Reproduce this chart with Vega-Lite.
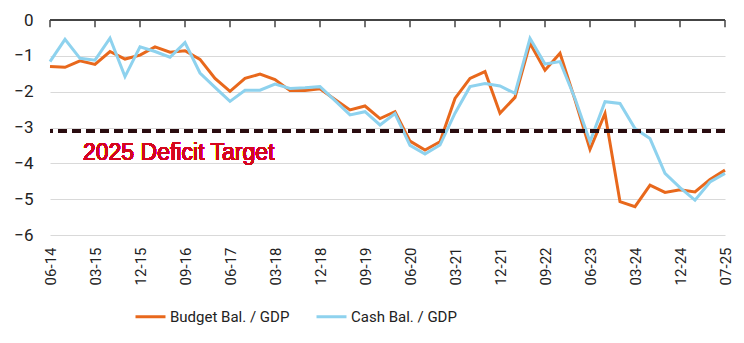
{
  "$schema": "https://vega.github.io/schema/vega-lite/v6.json",
  "width": 675,
  "height": 215,
  "autosize": "none",
  "padding": {"left": 50, "top": 20, "right": 19, "bottom": 108},
  "background": "white",
  "config": {
    "view": {"stroke": null},
    "font": "Roboto",
    "axis": {"labelColor": "#222", "labelFont": "Roboto"},
    "legend": {"labelFont": "Roboto"}
  },
  "data": {
    "values": [
      {"q": "06-14", "s": "Budget Bal. / GDP", "v": -1.30}, {"q": "06-14", "s": "Cash Bal. / GDP", "v": -1.16},
      {"q": "09-14", "s": "Budget Bal. / GDP", "v": -1.32}, {"q": "09-14", "s": "Cash Bal. / GDP", "v": -0.54},
      {"q": "12-14", "s": "Budget Bal. / GDP", "v": -1.14}, {"q": "12-14", "s": "Cash Bal. / GDP", "v": -1.07},
      {"q": "03-15", "s": "Budget Bal. / GDP", "v": -1.24}, {"q": "03-15", "s": "Cash Bal. / GDP", "v": -1.12},
      {"q": "06-15", "s": "Budget Bal. / GDP", "v": -0.88}, {"q": "06-15", "s": "Cash Bal. / GDP", "v": -0.51},
      {"q": "09-15", "s": "Budget Bal. / GDP", "v": -1.09}, {"q": "09-15", "s": "Cash Bal. / GDP", "v": -1.58},
      {"q": "12-15", "s": "Budget Bal. / GDP", "v": -0.98}, {"q": "12-15", "s": "Cash Bal. / GDP", "v": -0.75},
      {"q": "03-16", "s": "Budget Bal. / GDP", "v": -0.75}, {"q": "03-16", "s": "Cash Bal. / GDP", "v": -0.88},
      {"q": "06-16", "s": "Budget Bal. / GDP", "v": -0.90}, {"q": "06-16", "s": "Cash Bal. / GDP", "v": -1.04},
      {"q": "09-16", "s": "Budget Bal. / GDP", "v": -0.86}, {"q": "09-16", "s": "Cash Bal. / GDP", "v": -0.63},
      {"q": "12-16", "s": "Budget Bal. / GDP", "v": -1.10}, {"q": "12-16", "s": "Cash Bal. / GDP", "v": -1.48},
      {"q": "03-17", "s": "Budget Bal. / GDP", "v": -1.63}, {"q": "03-17", "s": "Cash Bal. / GDP", "v": -1.88},
      {"q": "06-17", "s": "Budget Bal. / GDP", "v": -1.99}, {"q": "06-17", "s": "Cash Bal. / GDP", "v": -2.27},
      {"q": "09-17", "s": "Budget Bal. / GDP", "v": -1.63}, {"q": "09-17", "s": "Cash Bal. / GDP", "v": -1.96},
      {"q": "12-17", "s": "Budget Bal. / GDP", "v": -1.51}, {"q": "12-17", "s": "Cash Bal. / GDP", "v": -1.96},
      {"q": "03-18", "s": "Budget Bal. / GDP", "v": -1.66}, {"q": "03-18", "s": "Cash Bal. / GDP", "v": -1.79},
      {"q": "06-18", "s": "Budget Bal. / GDP", "v": -1.97}, {"q": "06-18", "s": "Cash Bal. / GDP", "v": -1.91},
      {"q": "09-18", "s": "Budget Bal. / GDP", "v": -1.97}, {"q": "09-18", "s": "Cash Bal. / GDP", "v": -1.89},
      {"q": "12-18", "s": "Budget Bal. / GDP", "v": -1.92}, {"q": "12-18", "s": "Cash Bal. / GDP", "v": -1.86},
      {"q": "03-19", "s": "Budget Bal. / GDP", "v": -2.22}, {"q": "03-19", "s": "Cash Bal. / GDP", "v": -2.25},
      {"q": "06-19", "s": "Budget Bal. / GDP", "v": -2.51}, {"q": "06-19", "s": "Cash Bal. / GDP", "v": -2.65},
      {"q": "09-19", "s": "Budget Bal. / GDP", "v": -2.40}, {"q": "09-19", "s": "Cash Bal. / GDP", "v": -2.56},
      {"q": "12-19", "s": "Budget Bal. / GDP", "v": -2.75}, {"q": "12-19", "s": "Cash Bal. / GDP", "v": -2.93},
      {"q": "03-20", "s": "Budget Bal. / GDP", "v": -2.56}, {"q": "03-20", "s": "Cash Bal. / GDP", "v": -2.61},
      {"q": "06-20", "s": "Budget Bal. / GDP", "v": -3.38}, {"q": "06-20", "s": "Cash Bal. / GDP", "v": -3.50},
      {"q": "09-20", "s": "Budget Bal. / GDP", "v": -3.63}, {"q": "09-20", "s": "Cash Bal. / GDP", "v": -3.74},
      {"q": "12-20", "s": "Budget Bal. / GDP", "v": -3.40}, {"q": "12-20", "s": "Cash Bal. / GDP", "v": -3.49},
      {"q": "03-21", "s": "Budget Bal. / GDP", "v": -2.19}, {"q": "03-21", "s": "Cash Bal. / GDP", "v": -2.60},
      {"q": "06-21", "s": "Budget Bal. / GDP", "v": -1.63}, {"q": "06-21", "s": "Cash Bal. / GDP", "v": -1.86},
      {"q": "09-21", "s": "Budget Bal. / GDP", "v": -1.44}, {"q": "09-21", "s": "Cash Bal. / GDP", "v": -1.77},
      {"q": "12-21", "s": "Budget Bal. / GDP", "v": -2.60}, {"q": "12-21", "s": "Cash Bal. / GDP", "v": -1.84},
      {"q": "03-22", "s": "Budget Bal. / GDP", "v": -2.16}, {"q": "03-22", "s": "Cash Bal. / GDP", "v": -2.05},
      {"q": "06-22", "s": "Budget Bal. / GDP", "v": -0.65}, {"q": "06-22", "s": "Cash Bal. / GDP", "v": -0.51},
      {"q": "09-22", "s": "Budget Bal. / GDP", "v": -1.40}, {"q": "09-22", "s": "Cash Bal. / GDP", "v": -1.23},
      {"q": "12-22", "s": "Budget Bal. / GDP", "v": -0.93}, {"q": "12-22", "s": "Cash Bal. / GDP", "v": -1.16},
      {"q": "03-23", "s": "Budget Bal. / GDP", "v": -2.23}, {"q": "03-23", "s": "Cash Bal. / GDP", "v": -2.19},
      {"q": "06-23", "s": "Budget Bal. / GDP", "v": -3.61}, {"q": "06-23", "s": "Cash Bal. / GDP", "v": -3.40},
      {"q": "09-23", "s": "Budget Bal. / GDP", "v": -2.61}, {"q": "09-23", "s": "Cash Bal. / GDP", "v": -2.28},
      {"q": "12-23", "s": "Budget Bal. / GDP", "v": -5.07}, {"q": "12-23", "s": "Cash Bal. / GDP", "v": -2.33},
      {"q": "03-24", "s": "Budget Bal. / GDP", "v": -5.21}, {"q": "03-24", "s": "Cash Bal. / GDP", "v": -3.03},
      {"q": "06-24", "s": "Budget Bal. / GDP", "v": -4.61}, {"q": "06-24", "s": "Cash Bal. / GDP", "v": -3.31},
      {"q": "09-24", "s": "Budget Bal. / GDP", "v": -4.81}, {"q": "09-24", "s": "Cash Bal. / GDP", "v": -4.28},
      {"q": "12-24", "s": "Budget Bal. / GDP", "v": -4.74}, {"q": "12-24", "s": "Cash Bal. / GDP", "v": -4.68},
      {"q": "03-25", "s": "Budget Bal. / GDP", "v": -4.80}, {"q": "03-25", "s": "Cash Bal. / GDP", "v": -5.03},
      {"q": "06-25", "s": "Budget Bal. / GDP", "v": -4.45}, {"q": "06-25", "s": "Cash Bal. / GDP", "v": -4.52},
      {"q": "07-25", "s": "Budget Bal. / GDP", "v": -4.19}, {"q": "07-25", "s": "Cash Bal. / GDP", "v": -4.28}
    ]
  },
  "layer": [
    {
      "mark": {"type": "line", "strokeWidth": 3, "strokeJoin": "miter"},
      "encoding": {
        "x": {
          "field": "q",
          "type": "ordinal",
          "sort": null,
          "scale": {"type": "point", "padding": 0},
          "title": null,
          "axis": {
            "orient": "bottom",
            "values": ["06-14", "03-15", "12-15", "09-16", "06-17", "03-18", "12-18", "09-19", "06-20", "03-21", "12-21", "09-22", "06-23", "03-24", "12-24", "07-25"],
            "labelAngle": -90,
            "labelFontSize": 15,
            "labelPadding": 12,
            "labelOverlap": false,
            "domain": false,
            "ticks": false,
            "grid": false
          }
        },
        "y": {
          "field": "v",
          "type": "quantitative",
          "scale": {"domain": [-6, 0], "nice": false},
          "title": null,
          "axis": {
            "values": [0, -1, -2, -3, -4, -5, -6],
            "tickCount": 7,
            "labelOverlap": false,
            "labelFontSize": 17,
            "labelPadding": 17,
            "domain": false,
            "ticks": false,
            "grid": true,
            "gridColor": "#d9d9d9",
            "gridWidth": 1
          }
        },
        "color": {
          "field": "s",
          "type": "nominal",
          "scale": {"domain": ["Budget Bal. / GDP", "Cash Bal. / GDP"], "range": ["#e8681c", "#8ed2ee"]},
          "legend": {
            "title": null,
            "orient": "none",
            "legendX": 84,
            "legendY": 280,
            "direction": "horizontal",
            "symbolType": "stroke",
            "symbolStrokeWidth": 3,
            "symbolSize": 900,
            "labelFontSize": 15,
            "labelColor": "#222",
            "labelOffset": 3,
            "columnPadding": 20
          }
        },
        "order": {"field": "s", "sort": "ascending"}
      }
    },
    {
      "mark": {"type": "rule", "color": "#2a0d10", "strokeWidth": 3, "strokeDash": [9, 5]},
      "encoding": {"y": {"datum": -3.1, "type": "quantitative"}}
    },
    {
      "mark": {"type": "text", "color": "#d4071f", "fontSize": 23, "font": "Liberation Sans", "align": "left", "baseline": "middle", "dx": 3},
      "encoding": {
        "x": {"datum": "12-14"},
        "y": {"datum": -3.7, "type": "quantitative"},
        "text": {"value": "2025 Deficit Target"}
      }
    },
    {
      "mark": {"type": "rule", "color": "#444", "strokeWidth": 1.2},
      "encoding": {"y": {"datum": 0, "type": "quantitative"}}
    },
    {
      "transform": [
        {"filter": {"field": "s", "equal": "Budget Bal. / GDP"}},
        {"filter": {"field": "q", "oneOf": ["06-14", "03-15", "12-15", "09-16", "06-17", "03-18", "12-18", "09-19", "06-20", "03-21", "12-21", "09-22", "06-23", "03-24", "12-24", "07-25"]}}
      ],
      "mark": {"type": "rule", "color": "#444", "strokeWidth": 1.5},
      "encoding": {
        "x": {"field": "q", "type": "ordinal", "sort": null},
        "y": {"datum": 0, "type": "quantitative"},
        "y2": {"datum": -0.2}
      }
    }
  ]
}
